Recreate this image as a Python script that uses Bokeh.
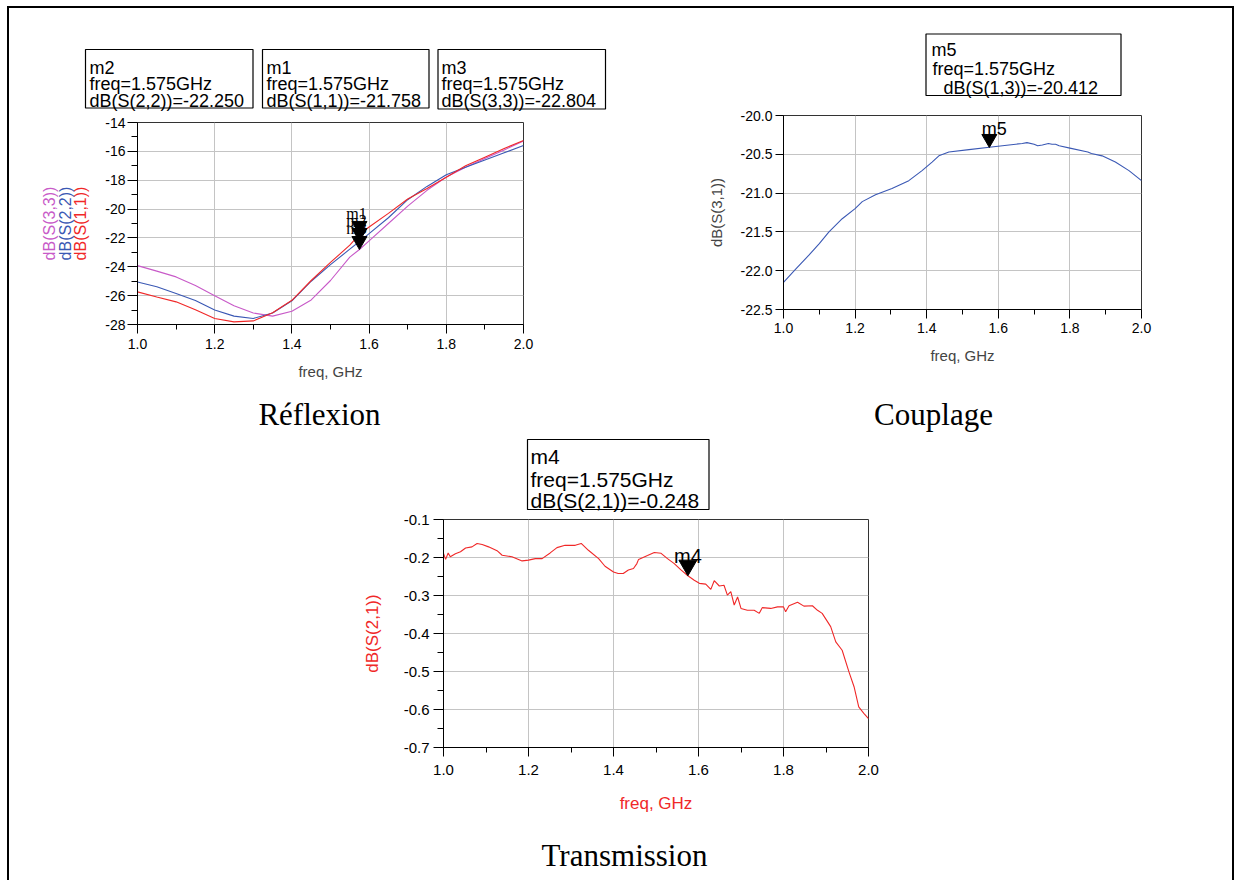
import math
from bokeh.plotting import figure
from bokeh.models import FixedTicker, PrintfTickFormatter, Label, LinearAxis, BoxAnnotation
from bokeh.layouts import row, column
from bokeh.embed import file_html
from bokeh.resources import INLINE
from bokeh.core.properties import value

SANS = "Liberation Sans"
SERIF = "Liberation Serif"

RED = "#f02828"
BLUE = "#3a58b4"
PINK = "#c85ac8"

# ---------------- data ----------------
refl_freq = [1.0, 1.05, 1.1, 1.15, 1.2, 1.25, 1.3, 1.35, 1.4, 1.45, 1.5, 1.55, 1.575,
             1.6, 1.65, 1.7, 1.75, 1.8, 1.85, 1.9, 1.95, 2.0]
s11 = [-25.74, -26.09, -26.43, -26.97, -27.58, -27.82, -27.75, -27.18, -26.32, -24.95, -23.70,
       -22.50, -21.76, -21.24, -20.30, -19.30, -18.57, -17.80, -17.00, -16.40, -15.80, -15.25]
s22 = [-25.05, -25.39, -25.85, -26.33, -27.00, -27.42, -27.58, -27.20, -26.36, -25.00, -23.85,
       -22.78, -22.25, -21.70, -20.60, -19.35, -18.43, -17.62, -17.10, -16.60, -16.10, -15.59]
s33 = [-23.92, -24.30, -24.70, -25.30, -26.00, -26.70, -27.20, -27.42, -27.08, -26.30, -24.95,
       -23.33, -22.80, -22.20, -21.00, -19.80, -18.70, -17.78, -17.10, -16.50, -15.90, -15.29]

coup_freq = [1.0, 1.034, 1.071, 1.1, 1.127, 1.164, 1.2, 1.22, 1.257, 1.303, 1.35, 1.387, 1.415,
             1.434, 1.462, 1.518, 1.575, 1.63, 1.667, 1.68, 1.7, 1.71, 1.723, 1.74, 1.75, 1.76,
             1.77, 1.8, 1.85, 1.86, 1.89, 1.927, 1.965, 2.0]
s31 = [-22.15, -21.98, -21.80, -21.65, -21.50, -21.33, -21.20, -21.11, -21.02, -20.94, -20.84,
       -20.71, -20.60, -20.52, -20.47, -20.44, -20.41, -20.38, -20.36, -20.35, -20.37, -20.39,
       -20.38, -20.36, -20.37, -20.37, -20.39, -20.42, -20.47, -20.49, -20.52, -20.60, -20.71,
       -20.84]

trans_freq = [1.0, 1.005, 1.011, 1.016, 1.028, 1.04, 1.052, 1.067, 1.079, 1.091, 1.106, 1.126,
              1.138, 1.161, 1.185, 1.2, 1.216, 1.232, 1.251, 1.267, 1.286, 1.31, 1.324, 1.341,
              1.365, 1.38, 1.4, 1.411, 1.423, 1.435, 1.447, 1.455, 1.459, 1.48, 1.496, 1.512,
              1.527, 1.543, 1.558, 1.575, 1.59, 1.602, 1.617, 1.629, 1.637, 1.649, 1.66, 1.668,
              1.676, 1.684, 1.692, 1.70, 1.715, 1.731, 1.743, 1.75, 1.77, 1.786, 1.80, 1.805,
              1.813, 1.833, 1.848, 1.868, 1.88, 1.891, 1.911, 1.923, 1.938, 1.954, 1.966, 1.977,
              1.989, 2.0]
s21 = [-0.189, -0.205, -0.188, -0.198, -0.190, -0.185, -0.175, -0.172, -0.163, -0.166, -0.172,
       -0.182, -0.194, -0.198, -0.209, -0.207, -0.203, -0.203, -0.188, -0.174, -0.168, -0.168,
       -0.163, -0.181, -0.203, -0.223, -0.238, -0.242, -0.242, -0.233, -0.229, -0.216, -0.205,
       -0.195, -0.187, -0.189, -0.203, -0.216, -0.232, -0.248, -0.260, -0.268, -0.270, -0.284,
       -0.261, -0.275, -0.273, -0.299, -0.290, -0.325, -0.304, -0.334, -0.339, -0.339, -0.347,
       -0.332, -0.334, -0.330, -0.330, -0.343, -0.327, -0.318, -0.328, -0.327, -0.339, -0.347,
       -0.382, -0.422, -0.444, -0.501, -0.540, -0.593, -0.610, -0.624]

marker_freq = 1.575
m_s11, m_s22, m_s33, m_s31, m_s21 = -21.758, -22.250, -22.804, -20.412, -0.248

x_major = [1.0, 1.2, 1.4, 1.6, 1.8, 2.0]
x_minor = [1.1, 1.3, 1.5, 1.7, 1.9]
refl_y_major = [-28, -26, -24, -22, -20, -18, -16, -14]
refl_y_minor = [-27, -25, -23, -21, -19, -17, -15]
coup_y_major = [-22.5, -22.0, -21.5, -21.0, -20.5, -20.0]
trans_y_major = [-0.7, -0.6, -0.5, -0.4, -0.3, -0.2, -0.1]
trans_y_minor = [-0.65, -0.55, -0.45, -0.35, -0.25, -0.15]


def make_fig(width, height, fl, ft, fw, fh, yr):
    p = figure(width=width, height=height, x_range=(1.0, 2.0), y_range=yr,
               output_backend="svg", toolbar_location=None,
               min_border_left=fl, min_border_top=ft,
               min_border_right=width - fl - fw, min_border_bottom=height - ft - fh)
    p.background_fill_color = "white"
    p.border_fill_color = "white"
    p.outline_line_color = "#333333"
    p.outline_line_width = 1
    for ax in (p.xaxis[0], p.yaxis[0]):
        ax.axis_line_color = "black"
        ax.major_tick_line_color = "black"
        ax.minor_tick_line_color = "black"
        ax.major_tick_in = 0
        ax.minor_tick_in = 0
        ax.major_label_text_font = SANS
        ax.major_label_text_color = "black"
        ax.axis_label_text_font = SANS
        ax.axis_label_text_font_style = "normal"
    p.grid.grid_line_color = "#c4c4c4"
    p.grid.grid_line_width = 1
    return p


def strip(width, height):
    p = figure(width=width, height=height, x_range=(0, width), y_range=(height, 0),
               x_axis_location=None, y_axis_location=None, min_border=0,
               toolbar_location=None, output_backend="svg")
    p.outline_line_color = None
    p.background_fill_color = "white"
    p.border_fill_color = "white"
    for g in p.grid:
        g.visible = False
    return p


def marker_box(s, origin, box, text_x, baselines, lines, size):
    ox, oy = origin
    l, r, t, b = box
    s.add_layout(BoxAnnotation(left=l - ox, right=r - ox, top=t - oy, bottom=b - oy,
                               fill_color="white", fill_alpha=1.0,
                               line_color="black", line_width=1.2, line_alpha=1.0))
    for tx, by, txt in zip(text_x, baselines, lines):
        s.add_layout(Label(x=tx - ox, y=by - oy, text=txt, text_font=SANS,
                           text_font_size=f"{size}px", text_color="black",
                           text_align="left", text_baseline="alphabetic"))


def caption(s, origin, cx, cy, text):
    ox, oy = origin
    s.add_layout(Label(x=cx - ox, y=cy - oy, text=text, text_font=SERIF,
                       text_font_size="31px", text_color="black",
                       text_align="center", text_baseline="middle"))


def marker(p, yv, fh, yr, size, label, lab_size, lab_font, dy, dx):
    px_per_unit = fh / (yr[1] - yr[0])
    tip = 1.1547 * size / 2.0
    p.scatter([marker_freq], [yv + tip / px_per_unit], marker="inverted_triangle", size=size,
              fill_color="black", line_color="black")
    p.text([marker_freq], [yv], text=[label], text_font=value(lab_font),
           text_font_size=f"{lab_size}px", text_align="center", text_baseline="alphabetic",
           y_offset=dy, x_offset=dx, text_color="black")


# ---------------- Réflexion ----------------
hdrA = strip(610, 104)
marker_box(hdrA, (9, 8), (85, 252.5, 49, 107.5), [89, 89, 89], [67.2, 83.8, 100.3],
           ["m2", "freq=1.575GHz", "dB(S(2,2))=-22.250"], 18)
marker_box(hdrA, (9, 8), (262, 428.5, 49, 107.5), [266, 266, 266], [67.2, 83.8, 100.3],
           ["m1", "freq=1.575GHz", "dB(S(1,1))=-21.758"], 18)
marker_box(hdrA, (9, 8), (437.5, 605, 49, 108.5), [441, 441, 441], [67.2, 83.8, 100.3],
           ["m3", "freq=1.575GHz", "dB(S(3,3))=-22.804"], 18)

ryr = (-28, -14)
pA = make_fig(610, 278, 128, 10, 386, 202, ryr)
pA.line(refl_freq, s33, line_color=PINK, line_width=1.1)
pA.line(refl_freq, s22, line_color=BLUE, line_width=1.1)
pA.line(refl_freq, s11, line_color=RED, line_width=1.1)
pA.xaxis[0].ticker = FixedTicker(ticks=x_major, minor_ticks=x_minor)
pA.yaxis[0].ticker = FixedTicker(ticks=refl_y_major, minor_ticks=refl_y_minor)
pA.xaxis[0].formatter = PrintfTickFormatter(format="%.1f")
pA.yaxis[0].formatter = PrintfTickFormatter(format="%d")
pA.xaxis[0].major_label_text_font_size = "14px"
pA.yaxis[0].major_label_text_font_size = "14px"
pA.xaxis[0].major_tick_out = 9
pA.xaxis[0].minor_tick_out = 5
pA.yaxis[0].major_tick_out = 10
pA.yaxis[0].minor_tick_out = 6
pA.xaxis[0].major_label_standoff = 5
pA.yaxis[0].major_label_standoff = 2
pA.xaxis[0].axis_label = "freq, GHz"
pA.xaxis[0].axis_label_text_font_size = "15px"
pA.xaxis[0].axis_label_standoff = 11
pA.yaxis[0].axis_label = "dB(S(1,1))"
pA.yaxis[0].axis_label_text_color = RED
pA.yaxis[0].axis_label_text_font_size = "16px"
pA.yaxis[0].axis_label_standoff = 13
for txt, col in (("dB(S(2,2))", BLUE), ("dB(S(3,3))", PINK)):
    extra = LinearAxis(ticker=FixedTicker(ticks=[], minor_ticks=[]), axis_line_color=None,
                       major_tick_out=0, minor_tick_out=0, major_tick_in=0, minor_tick_in=0,
                       major_label_standoff=0, axis_label=txt, axis_label_text_color=col,
                       axis_label_text_font=SANS, axis_label_text_font_size="16px",
                       axis_label_text_font_style="normal", axis_label_standoff=-4)
    pA.add_layout(extra, "left")
for yv, lab in ((m_s11, "m1"), (m_s22, "m2"), (m_s33, "m3")):
    marker(pA, yv, 202, ryr, 15, lab, 16, SERIF, -21, -3)

ftrA = strip(610, 44)
caption(ftrA, (9, 390), 319, 414, "Réflexion")

# ---------------- Couplage ----------------
hdrB = strip(613, 92)
marker_box(hdrB, (619, 8), (925.5, 1120.5, 33.5, 95), [931, 932, 943], [49.8, 68.3, 87.5],
           ["m5", "freq=1.575GHz", "dB(S(1,3))=-20.412"], 18)

cyr = (-22.5, -20.0)
pB = make_fig(613, 290, 164, 15, 358, 194, cyr)
pB.line(coup_freq, s31, line_color=BLUE, line_width=1.1)
pB.xaxis[0].ticker = FixedTicker(ticks=x_major, minor_ticks=x_minor)
pB.yaxis[0].ticker = FixedTicker(ticks=coup_y_major, minor_ticks=[])
pB.xaxis[0].formatter = PrintfTickFormatter(format="%.1f")
pB.yaxis[0].formatter = PrintfTickFormatter(format="%.1f")
pB.xaxis[0].major_label_text_font_size = "14px"
pB.yaxis[0].major_label_text_font_size = "14px"
pB.xaxis[0].major_tick_out = 9
pB.xaxis[0].minor_tick_out = 5
pB.yaxis[0].major_tick_out = 8
pB.yaxis[0].minor_tick_out = 0
pB.xaxis[0].major_label_standoff = 4
pB.yaxis[0].major_label_standoff = 3
pB.xaxis[0].axis_label = "freq, GHz"
pB.xaxis[0].axis_label_text_font_size = "15px"
pB.xaxis[0].axis_label_standoff = 11
pB.yaxis[0].axis_label = "dB(S(3,1))"
pB.yaxis[0].axis_label_text_font_size = "15px"
pB.yaxis[0].axis_label_standoff = 13
marker(pB, m_s31, 194, cyr, 15, "m5", 18, SANS, -18, 5)

ftrB = strip(613, 44)
caption(ftrB, (619, 390), 933, 414, "Couplage")

# ---------------- Transmission ----------------
hdrC = strip(1223, 78)
marker_box(hdrC, (9, 434), (527, 708.5, 439, 509), [530, 530, 530], [456, 478.5, 500.3],
           ["m4", "freq=1.575GHz", "dB(S(2,1))=-0.248"], 21)

tyr = (-0.7, -0.1)
pC = make_fig(1223, 313, 434, 7, 425, 228, tyr)
pC.line(trans_freq, s21, line_color=RED, line_width=1.1)
pC.xaxis[0].ticker = FixedTicker(ticks=x_major, minor_ticks=x_minor)
pC.yaxis[0].ticker = FixedTicker(ticks=trans_y_major, minor_ticks=trans_y_minor)
pC.xaxis[0].formatter = PrintfTickFormatter(format="%.1f")
pC.yaxis[0].formatter = PrintfTickFormatter(format="%.1f")
pC.xaxis[0].major_label_text_font_size = "15px"
pC.yaxis[0].major_label_text_font_size = "15px"
pC.xaxis[0].major_tick_out = 9
pC.xaxis[0].minor_tick_out = 5
pC.yaxis[0].major_tick_out = 10
pC.yaxis[0].minor_tick_out = 6
pC.xaxis[0].major_label_standoff = 8
pC.yaxis[0].major_label_standoff = 4
pC.xaxis[0].axis_label = "freq, GHz"
pC.xaxis[0].axis_label_text_font_size = "17px"
pC.xaxis[0].axis_label_text_color = RED
pC.xaxis[0].axis_label_standoff = 16
pC.yaxis[0].axis_label = "dB(S(2,1))"
pC.yaxis[0].axis_label_text_font_size = "17px"
pC.yaxis[0].axis_label_text_color = RED
pC.yaxis[0].axis_label_standoff = 19
marker(pC, m_s21, 228, tyr, 18, "m4", 20, SANS, -20, 0)

ftrC = strip(1223, 55)
caption(ftrC, (9, 825), 624, 855, "Transmission")


def wrap(f):
    return column(f)


colA = column(wrap(hdrA), wrap(pA), wrap(ftrA))
colB = column(wrap(hdrB), wrap(pB), wrap(ftrB))
colC = column(wrap(hdrC), wrap(pC), wrap(ftrC))

layout = column(row(colA, colB), colC,
                styles={"margin-left": "7px", "margin-top": "6px",
                        "border-left": "2px solid black", "border-top": "2px solid black",
                        "border-right": "2px solid black"})

open("out.html", "w").write(file_html(layout, INLINE))
